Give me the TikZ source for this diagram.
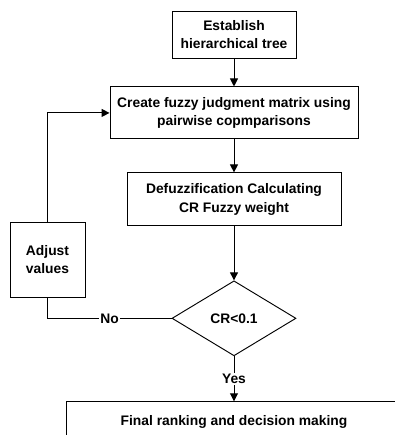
\documentclass[tikz,border=0pt]{standalone}
\usepackage{fontspec}
\setmainfont{Liberation Sans}
\usepackage{tikz}
\usetikzlibrary{arrows.meta,positioning,shapes.geometric}
\tikzset{
  procbox/.style={draw=black,line width=0.8pt,align=center,inner sep=0pt,font=\fontsize{11.8}{16}\selectfont\bfseries,fill=white},
  decision/.style={draw=black,line width=0.8pt,diamond,inner sep=0pt,minimum width=37.2mm,minimum height=22.5mm,font=\fontsize{11.8}{16}\selectfont\bfseries},
  procarrow/.style={-{Triangle[length=2.4mm,width=2.4mm]},line width=0.8pt,draw=black},
  procline/.style={line width=0.8pt,draw=black},
  branchlabel/.style={fill=white,inner sep=1pt,font=\fontsize{11.8}{16}\selectfont\bfseries}
}
\begin{document}
\begin{tikzpicture}[x=0.3mm,y=-0.3mm,node distance=8.4mm]
\clip (0,0) rectangle (395,435);
\node[procbox,minimum width=37.2mm,minimum height=14.1mm] (tree) at (234,34.5) {Establish\\hierarchical tree};
\node[procbox,below=8.4mm of tree,minimum width=74.4mm,minimum height=15.6mm] (matrix) {Create fuzzy judgment matrix using\\pairwise copmparisons};
\node[procbox,below=9.9mm of matrix,minimum width=64.2mm,minimum height=15.9mm] (defuzz) {Defuzzification Calculating\\CR Fuzzy weight};
\node[decision,below=16.2mm of defuzz] (check) {CR<0.1};
\node[procbox,below=13.5mm of check,minimum width=100.8mm,minimum height=12mm] (rank) {Final ranking and decision making};
\node[procbox,minimum width=22.5mm,minimum height=22.5mm] (adjust) at (47.5,259.5) {Adjust\\values};
\draw[procarrow] (tree.south)--(matrix.north);
\draw[procarrow] (matrix.south)--(defuzz.north);
\draw[procarrow] (defuzz.south)--(check.north);
\draw[procarrow] (check.south)--node[branchlabel]{Yes}(rank.north);
\draw[procline] (check.west)--node[branchlabel]{No}(adjust.south |- check.west)--(adjust.south);
\draw[procarrow] (adjust.north) |- (matrix.west);
\end{tikzpicture}
\end{document}
